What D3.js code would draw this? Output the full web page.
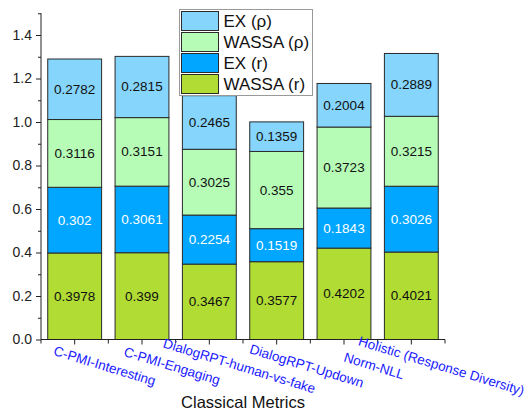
<!DOCTYPE html>
<html>
<head>
<meta charset="utf-8">
<script src="https://cdn.jsdelivr.net/npm/d3@7"></script>
<style>
  html, body { margin: 0; padding: 0; background: #fff; }
  svg { display: block; font-family: "Liberation Sans", Arial, sans-serif; }
</style>
</head>
<body>
<svg id="chart" width="529" height="410"></svg>
<script>
// Metric categories along the x axis
const categories = [
  "C-PMI-Interesting",
  "C-PMI-Engaging",
  "DialogRPT-human-vs-fake",
  "DialogRPT-Updown",
  "Norm-NLL",
  "Holistic (Response Diversity)"
];

// Stacked series, bottom to top
const wassaR   = [0.3978, 0.399, 0.3467, 0.3577, 0.4202, 0.4021];
const exR      = [0.302, 0.3061, 0.2254, 0.1519, 0.1843, 0.3026];
const wassaRho = [0.3116, 0.3151, 0.3025, 0.355, 0.3723, 0.3215];
const exRho    = [0.2782, 0.2815, 0.2465, 0.1359, 0.2004, 0.2889];

const seriesNames = ["WASSA (r)", "EX (r)", "WASSA (\u03c1)", "EX (\u03c1)"];
const yTicks = [0, 0.2, 0.4, 0.6, 0.8, 1.0, 1.2, 1.4];
const xTitle = "Classical Metrics";

const colors = {
  "WASSA (r)": "#b0dc34",
  "EX (r)": "#00a6ff",
  "WASSA (\u03c1)": "#b6fcb6",
  "EX (\u03c1)": "#85d5fd"
};
const labelColors = {
  "WASSA (r)": "#111",
  "EX (r)": "#fff",
  "WASSA (\u03c1)": "#111",
  "EX (\u03c1)": "#111"
};

const rows = categories.map((c, i) => ({
  cat: c,
  "WASSA (r)": wassaR[i],
  "EX (r)": exR[i],
  "WASSA (\u03c1)": wassaRho[i],
  "EX (\u03c1)": exRho[i]
}));

const svg = d3.select("#chart");
const x0 = 41, x1 = 445, yBottom = 339.5, yTop = 13.25;

const x = d3.scaleBand().domain(categories).range([x0, x1])
  .paddingInner(0.2).paddingOuter(0.1);
const y = d3.scaleLinear().domain([0, 1.5]).range([yBottom, yTop]);

const stacked = d3.stack().keys(seriesNames)(rows);

// Bars
const layers = svg.append("g").selectAll("g")
  .data(stacked).join("g")
  .attr("fill", d => colors[d.key]);

layers.selectAll("rect")
  .data(d => d.map(v => ({ key: d.key, v })))
  .join("rect")
  .attr("x", d => x(d.v.data.cat))
  .attr("width", x.bandwidth())
  .attr("y", d => y(d.v[1]))
  .attr("height", d => y(d.v[0]) - y(d.v[1]))
  .attr("stroke", "#2a2a2a")
  .attr("stroke-width", 1);

// Segment value labels
layers.selectAll("text")
  .data(d => d.map(v => ({ key: d.key, v })))
  .join("text")
  .attr("x", d => x(d.v.data.cat) + x.bandwidth() / 2)
  .attr("y", d => y((d.v[0] + d.v[1]) / 2))
  .attr("text-anchor", "middle")
  .attr("dominant-baseline", "central")
  .attr("font-size", 13.5)
  .attr("fill", d => labelColors[d.key])
  .text(d => d.v.data[d.key]);

// Y axis
const yAxis = svg.append("g")
  .attr("transform", `translate(${x0},0)`)
  .call(d3.axisLeft(y).tickValues(yTicks).tickFormat(d3.format(".1f"))
    .tickSize(5).tickPadding(4));
yAxis.select(".domain").attr("stroke", "#222").attr("d", `M-0,${yBottom}V${yTop}`);
yAxis.selectAll(".tick line").attr("stroke", "#222");
yAxis.selectAll(".tick text").attr("font-size", 14).attr("fill", "#222");
svg.append("g")
  .attr("transform", `translate(${x0},0)`)
  .call(d3.axisLeft(y).tickValues(d3.range(0.1, 1.55, 0.2)).tickSize(3).tickFormat(""))
  .call(g => g.select(".domain").remove())
  .selectAll("line").attr("stroke", "#222");

// X axis
const xAxis = svg.append("g")
  .attr("transform", `translate(0,${yBottom})`)
  .call(d3.axisBottom(x).tickSize(5).tickFormat(""));
xAxis.select(".domain").attr("stroke", "#222").attr("d", `M${x0},0H${x1}`);
xAxis.selectAll(".tick line").attr("stroke", "#222");
// Boundary ticks between categories
const bounds = d3.range(categories.length + 1).map(i => x0 + i * x.step());
xAxis.selectAll(".minor").data(bounds).join("line")
  .attr("class", "minor")
  .attr("x1", d => d).attr("x2", d => d)
  .attr("y1", 0).attr("y2", 4)
  .attr("stroke", "#222");

// Rotated category labels
svg.append("g").selectAll("text")
  .data(categories).join("text")
  .attr("transform", d => `translate(${x(d) + x.bandwidth() / 2 + 30},366) rotate(17)`)
  .attr("text-anchor", "middle")
  .attr("dominant-baseline", "central")
  .attr("font-size", 13.5)
  .attr("fill", "#1a1aff")
  .text(d => d);

// Axis title
svg.append("text")
  .attr("x", 243).attr("y", 408)
  .attr("text-anchor", "middle")
  .attr("font-size", 16.5)
  .attr("fill", "#111")
  .text(xTitle);

// Legend, top series first
const legend = svg.append("g");
legend.append("rect")
  .attr("x", 179.5).attr("y", 9.5).attr("width", 133).attr("height", 86)
  .attr("fill", "#fff").attr("stroke", "#999");
const legendKeys = seriesNames.slice().reverse();
const lg = legend.selectAll("g.item").data(legendKeys).join("g")
  .attr("class", "item")
  .attr("transform", (d, i) => `translate(181.5,${11.5 + i * 21})`);
lg.append("rect")
  .attr("width", 37).attr("height", 19)
  .attr("fill", d => colors[d])
  .attr("stroke", "#2a2a2a");
lg.append("text")
  .attr("x", 42).attr("y", 10)
  .attr("dominant-baseline", "central")
  .attr("font-size", 17)
  .attr("fill", "#111")
  .text(d => d);
</script>
</body>
</html>
